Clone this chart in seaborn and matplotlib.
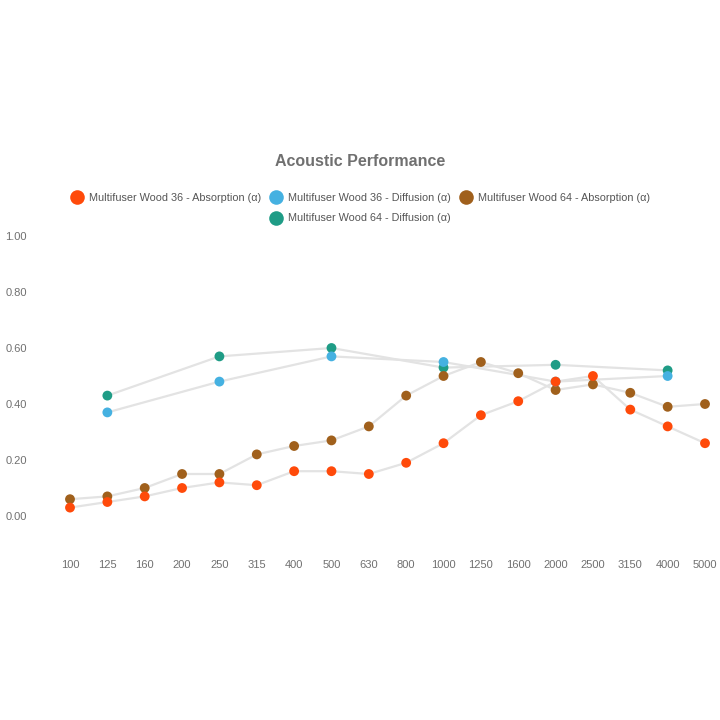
import numpy as np
import pandas as pd
import matplotlib
matplotlib.use("Agg")
import matplotlib.pyplot as plt
import seaborn as sns
from matplotlib.lines import Line2D

frequencies = ["100", "125", "160", "200", "250", "315", "400", "500", "630",
               "800", "1000", "1250", "1600", "2000", "2500", "3150", "4000", "5000"]

wood36_absorption = [0.03, 0.05, 0.07, 0.10, 0.12, 0.11, 0.16, 0.16, 0.15,
                     0.19, 0.26, 0.36, 0.41, 0.48, 0.50, 0.38, 0.32, 0.26]
wood36_diffusion = [None, 0.37, None, None, 0.48, None, None, 0.57, None,
                    None, 0.55, None, None, 0.48, None, None, 0.50, None]
wood64_absorption = [0.06, 0.07, 0.10, 0.15, 0.15, 0.22, 0.25, 0.27, 0.32,
                     0.43, 0.50, 0.55, 0.51, 0.45, 0.47, 0.44, 0.39, 0.40]
wood64_diffusion = [None, 0.43, None, None, 0.57, None, None, 0.60, None,
                    None, 0.53, None, None, 0.54, None, None, 0.52, None]

series_names = ["Multifuser Wood 36 - Absorption (\u03b1)",
                "Multifuser Wood 36 - Diffusion (\u03b1)",
                "Multifuser Wood 64 - Absorption (\u03b1)",
                "Multifuser Wood 64 - Diffusion (\u03b1)"]
series_values = [wood36_absorption, wood36_diffusion, wood64_absorption, wood64_diffusion]
series_colors = ["#ff4a0a", "#45b1e1", "#a0601c", "#1f9c86"]
yticks = [0.0, 0.2, 0.4, 0.6, 0.8, 1.0]

rows = []
for name, vals in zip(series_names, series_values):
    for i, v in enumerate(vals):
        if v is not None:
            rows.append({"series": name, "idx": i, "freq": frequencies[i], "value": v})
df = pd.DataFrame(rows)

sns.set_style("white")
plt.rcParams["font.family"] = ["Liberation Sans", "DejaVu Sans"]

fig = plt.figure(figsize=(7.2, 7.2), dpi=100)
# axes: left 40px, right 720px, top 230px, bottom 545px
ax = fig.add_axes([40 / 720, (720 - 545) / 720, 680 / 720, 315 / 720])

# lines (all light grey) first
for name in series_names:
    sub = df[df["series"] == name]
    sns.lineplot(data=sub, x="idx", y="value", ax=ax, color="#e3e3e3",
                 linewidth=1.6, sort=True, legend=False, zorder=1)

# markers, drawn in reverse order so that the first series sits on top
order = [3, 2, 1, 0]
for k in order:
    sub = df[df["series"] == series_names[k]]
    sns.scatterplot(data=sub, x="idx", y="value", ax=ax, color=series_colors[k],
                    s=50, edgecolor="none", linewidth=0, legend=False, zorder=3 + (3 - k))

# scales
px_per_cat = 635 / 17
ax.set_xlim(-30 / px_per_cat, 17 + 15 / px_per_cat)
ax.set_ylim(-29 / 280, 1 + 6 / 280)

ax.set_xticks(range(len(frequencies)))
ax.set_xticklabels(frequencies)
ax.set_yticks(yticks)
ax.set_yticklabels([f"{t:.2f}" for t in yticks])
ax.tick_params(axis="x", length=0, pad=11, labelsize=8, labelcolor="#707070")
ax.tick_params(axis="y", length=0, pad=25, labelsize=8, labelcolor="#707070")
for lab in ax.get_yticklabels():
    lab.set_horizontalalignment("left")
ax.set_xlabel("")
ax.set_ylabel("")
for sp in ax.spines.values():
    sp.set_visible(False)
ax.grid(False)

fig.text(0.5, 1 - 161 / 720, "Acoustic Performance", ha="center", va="center",
         fontsize=11.5, fontweight="bold", color="#707070")

def handle(c):
    return Line2D([], [], marker="o", linestyle="none", markersize=10.5,
                  markerfacecolor=c, markeredgecolor="none")

blank = Line2D([], [], linestyle="none", marker=None)
handles = [handle(series_colors[0]), blank, handle(series_colors[1]),
           handle(series_colors[3]), handle(series_colors[2]), blank]
labels = [series_names[0], "", series_names[1], series_names[3], series_names[2], ""]
fig.legend(handles, labels, loc="center", bbox_to_anchor=(0.5, 1 - 208 / 720),
           ncol=3, frameon=False, fontsize=7.8, labelcolor="#555555",
           handletextpad=0.45, columnspacing=0.75, handlelength=1.3,
           labelspacing=1.0)

fig.savefig("out.png", dpi=100, facecolor="white")
